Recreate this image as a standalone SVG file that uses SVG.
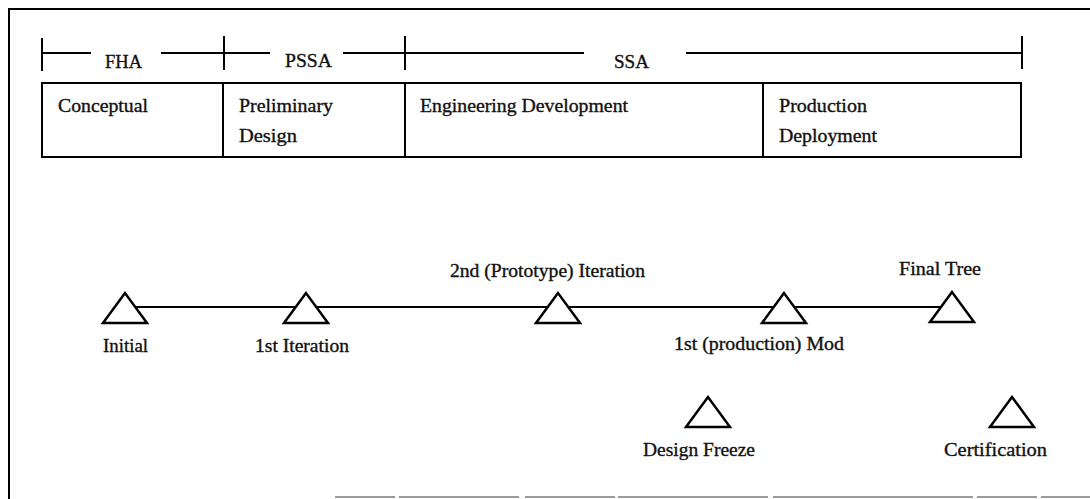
<svg xmlns="http://www.w3.org/2000/svg" width="1090" height="499" viewBox="0 0 1090 499">
  <style>
    .ln { stroke: #000; stroke-width: 2; fill: none; stroke-linecap: square; }
    .tri { stroke: #000; stroke-width: 2.5; fill: #fff; stroke-linejoin: miter; }
    .t { font-family: "Liberation Serif", "Times New Roman", serif; font-size: 18.5px; fill: #111; stroke: #111; stroke-width: 0.35; }
  </style>
  <defs>
    <polygon id="milestone" points="0,0 -22,30 22,30" class="tri"/>
  </defs>

  <rect width="1090" height="499" fill="#fff"/>

  <!-- page frame -->
  <g id="frame">
    <line class="ln" x1="9" y1="9" x2="1090" y2="9"/>
    <line class="ln" x1="9" y1="9" x2="9" y2="499"/>
    <line x1="335" y1="497" x2="1090" y2="497" stroke="#9a9a9a" stroke-width="2" stroke-dasharray="60 4 120 6 90 3 150 5 200 4"/>
  </g>

  <!-- analysis scale -->
  <g id="scale">
    <line class="ln" x1="42" y1="39" x2="42" y2="70"/>
    <line class="ln" x1="42" y1="53" x2="90" y2="53"/>
    <line class="ln" x1="162" y1="53" x2="269" y2="53"/>
    <line class="ln" x1="224" y1="37" x2="224" y2="69"/>
    <line class="ln" x1="344" y1="53" x2="583" y2="53"/>
    <line class="ln" x1="405" y1="37" x2="405" y2="69"/>
    <line class="ln" x1="687" y1="53" x2="1022" y2="53"/>
    <line class="ln" x1="1022" y1="37" x2="1022" y2="68"/>
    <text class="t" x="105" y="68" textLength="37" lengthAdjust="spacingAndGlyphs">FHA</text>
    <text class="t" x="285" y="67" textLength="47" lengthAdjust="spacingAndGlyphs">PSSA</text>
    <text class="t" x="614" y="68" textLength="35" lengthAdjust="spacingAndGlyphs">SSA</text>
  </g>

  <!-- lifecycle phases -->
  <g id="phases">
    <rect class="ln" x="42" y="83" width="979" height="74"/>
    <line class="ln" x1="223" y1="83" x2="223" y2="157"/>
    <line class="ln" x1="405" y1="83" x2="405" y2="157"/>
    <line class="ln" x1="763" y1="83" x2="763" y2="157"/>
    <text class="t" x="58" y="112" textLength="90" lengthAdjust="spacingAndGlyphs">Conceptual</text>
    <text class="t" x="239" y="112" textLength="94" lengthAdjust="spacingAndGlyphs">Preliminary</text>
    <text class="t" x="239" y="142" textLength="58" lengthAdjust="spacingAndGlyphs">Design</text>
    <text class="t" x="420" y="112" textLength="208" lengthAdjust="spacingAndGlyphs">Engineering Development</text>
    <text class="t" x="779" y="112" textLength="88" lengthAdjust="spacingAndGlyphs">Production</text>
    <text class="t" x="779" y="142" textLength="98" lengthAdjust="spacingAndGlyphs">Deployment</text>
  </g>

  <!-- timeline connector -->
  <g id="connectors">
    <line class="ln" x1="125" y1="307" x2="952" y2="307"/>
  </g>

  <!-- milestones -->
  <g id="initial">
    <use href="#milestone" x="125" y="293"/>
    <text class="t" x="103" y="352" textLength="45" lengthAdjust="spacingAndGlyphs">Initial</text>
  </g>
  <g id="iteration1">
    <use href="#milestone" x="306" y="293"/>
    <text class="t" x="255" y="352" textLength="94" lengthAdjust="spacingAndGlyphs">1st Iteration</text>
  </g>
  <g id="iteration2">
    <use href="#milestone" x="558" y="293"/>
    <text class="t" x="450" y="277" textLength="195" lengthAdjust="spacingAndGlyphs">2nd (Prototype) Iteration</text>
  </g>
  <g id="production-mod">
    <use href="#milestone" x="784" y="293"/>
    <text class="t" x="674" y="350" textLength="170" lengthAdjust="spacingAndGlyphs">1st (production) Mod</text>
  </g>
  <g id="final-tree">
    <use href="#milestone" x="952" y="292"/>
    <text class="t" x="899" y="275" textLength="82" lengthAdjust="spacingAndGlyphs">Final Tree</text>
  </g>
  <g id="design-freeze">
    <use href="#milestone" x="708" y="397"/>
    <text class="t" x="643" y="456" textLength="112" lengthAdjust="spacingAndGlyphs">Design Freeze</text>
  </g>
  <g id="certification">
    <use href="#milestone" x="1012" y="397"/>
    <text class="t" x="944" y="456" textLength="103" lengthAdjust="spacingAndGlyphs">Certification</text>
  </g>
</svg>
